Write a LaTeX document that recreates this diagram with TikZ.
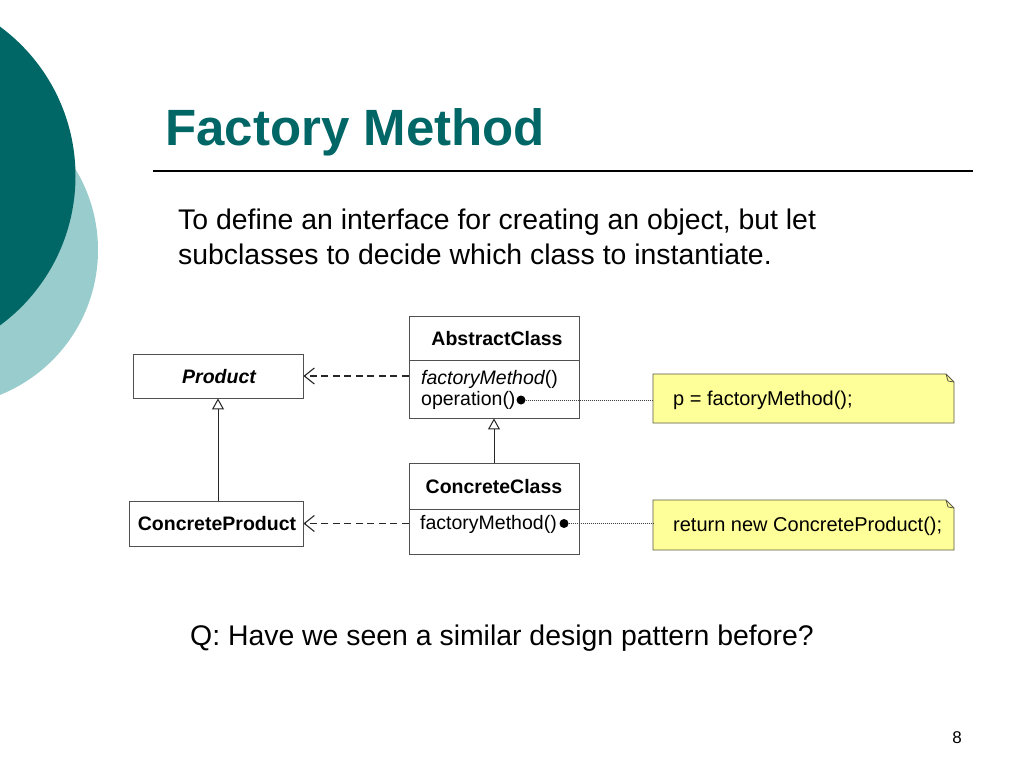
\documentclass[tikz,border=0pt]{standalone}
\usepackage{fontspec}
\setmainfont{Liberation Sans}
\usetikzlibrary{arrows.meta}
\definecolor{teal1}{RGB}{0,102,102}
\definecolor{teal2}{RGB}{153,204,204}
\definecolor{boxline}{RGB}{80,80,80}
\definecolor{notefill}{RGB}{255,255,153}
\definecolor{noteline}{RGB}{90,90,70}
\tikzset{
  umlbox/.style={draw=boxline, line width=0.9pt, fill=white, inner sep=0pt},
  umltxt/.style={font=\fontsize{19.5}{22}\selectfont, inner sep=0pt, anchor=base west},
  umlbold/.style={font=\fontsize{19.5}{22}\selectfont\bfseries, inner sep=0pt, anchor=base},
  depend/.style={draw=black!85, line width=1.1pt, dash pattern=on 7pt off 4.5pt, -{Straight Barb[length=10pt,width=16pt,line width=1.1pt]}},
  inherit/.style={draw=black!85, line width=1pt, -{Triangle[open,length=11pt,width=12pt,fill=white]}},
  notelink/.style={draw=black!75, line width=0.9pt, dash pattern=on 1pt off 1pt},
  bullet/.style={circle, fill=black, inner sep=0pt, minimum size=9pt},
  notebox/.style={fill=notefill, draw=noteline, line width=0.8pt},
  notetxt/.style={font=\fontsize{20}{23}\selectfont, inner sep=0pt, anchor=base west},
  bodytxt/.style={anchor=base west, inner sep=0pt, font=\fontsize{28.4}{35}\selectfont}
}
\begin{document}
\begin{tikzpicture}[x=1pt,y=-1pt]
\useasboundingbox (0,0) rectangle (1024,768);
\fill[white] (0,0) rectangle (1024,768);
% decorative circles
\begin{scope}
\clip (0,0) rectangle (1024,768);
\fill[teal2] (-58,250) circle (156);
\fill[teal1] (-110,176) circle (185.5);
\end{scope}
% title
\node[anchor=base west, inner sep=0pt, text=teal1, font=\fontsize{51}{60}\selectfont\bfseries] (title) at (165,145) {Factory Method};
\draw[line width=1.2pt] (153,171) coordinate (rl) -- (973,171) coordinate (rr);
% intro
\node[bodytxt] (intro1) at (178,229) {To define an interface for creating an object, but let};
\node[bodytxt] (intro2) at (178,264) {subclasses to decide which class to instantiate.};
% boxes
\node[umlbox, minimum width=170pt, minimum height=44pt] (P) at (218,376) {};
\node[umlbold, font=\fontsize{19.5}{22}\selectfont\bfseries\itshape] (Pt) at (219,383) {Product};
\node[umlbox, minimum width=174pt, minimum height=45pt] (CP) at (216,523.5) {};
\node[umlbold] (CPt) at (217,530) {ConcreteProduct};
\node[umlbox, minimum width=170pt, minimum height=102pt] (AC) at (494,367) {};
\draw[draw=boxline, line width=0.9pt] (AC.west |- 0,360) -- (AC.east |- 0,360);
\node[umlbold] (ACt) at (497,345) {AbstractClass};
\node[umltxt] (ACm1) at (421,384) {\itshape factoryMethod\upshape()};
\node[umltxt] (ACm2) at (421,405) {operation()};
\node[umlbox, minimum width=170pt, minimum height=91pt] (CC) at (494,508.5) {};
\draw[draw=boxline, line width=0.9pt] (CC.west |- 0,509) -- (CC.east |- 0,509);
\node[umlbold] (CCt) at (494,493) {ConcreteClass};
\node[umltxt] (CCm1) at (420,529) {factoryMethod()};
% notes
\path[notebox] (653,374) -- (946,374) -- (954,382) -- (954,423) -- (653,423) -- cycle;
\draw[noteline, line width=0.8pt] (946,374) -- (948,381) -- (954,382);
\node[inner sep=0pt, minimum width=301pt, minimum height=49pt] (N1) at (803.5,398.5) {};
\node[notetxt] (N1t) at (673,405) {p = factoryMethod();};
\path[notebox] (653,500) -- (946,500) -- (954,508) -- (954,550) -- (653,550) -- cycle;
\draw[noteline, line width=0.8pt] (946,500) -- (948,507) -- (954,508);
\node[inner sep=0pt, minimum width=301pt, minimum height=50pt] (N2) at (803.5,525) {};
\node[notetxt] (N2t) at (673,531) {return new ConcreteProduct();};
% bullets and note links
\node[bullet] (b1) at (521,400) {};
\node[bullet] (b2) at (564,523.5) {};
\draw[notelink] (b1) -- (b1 -| N1.west);
\draw[notelink] (b2) -- (b2 -| N2.west);
% dependencies
\draw[depend] (AC.west |- P.east) -- (P.east);
\draw[depend] (CC.west |- CP.east) -- (CP.east);
% inheritance
\draw[inherit] (CP.north -| P.south) -- (P.south);
\draw[inherit] (CC.north) -- (CC.north |- AC.south);
% question
\node[bodytxt] (q) at (190,645) {Q: Have we seen a similar design pattern before?};
\node[anchor=base, inner sep=0pt, font=\fontsize{17}{20}\selectfont] (pg) at (957,743) {8};
\end{tikzpicture}
\end{document}
